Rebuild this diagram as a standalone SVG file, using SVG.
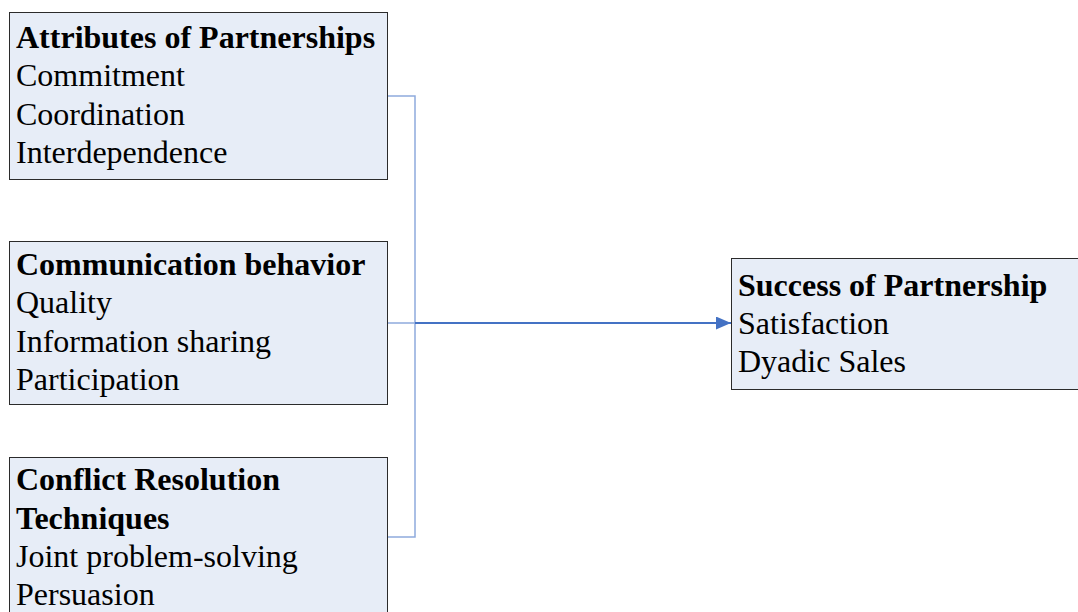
<svg xmlns="http://www.w3.org/2000/svg" width="1078" height="612" viewBox="0 0 1078 612">
<style>
.box{fill:#e7edf7;stroke:#2b2b2b;stroke-width:1}
text{font-family:"Liberation Serif","Times New Roman",serif;font-size:32px;fill:#000}
.b{font-weight:bold}
.thin{fill:none;stroke:#8eaadd;stroke-width:1.5}
.main{fill:none;stroke:#4472c4;stroke-width:2}
</style>
<defs>
<marker id="arr" markerWidth="15" markerHeight="13" refX="15" refY="6.5" orient="auto" markerUnits="userSpaceOnUse">
<path d="M0,0 L15,6.5 L0,13 z" fill="#4472c4"/>
</marker>
</defs>
<g id="connectors">
<path class="thin" d="M388,96 H415 V537 H388"/>
<path class="thin" d="M388,323 H415"/>
<path class="main" d="M415,323 H731" marker-end="url(#arr)"/>
</g>
<g id="attributes">
<rect class="box" x="9.5" y="12.5" width="378" height="167"/>
<text x="16" y="48" class="b">Attributes of Partnerships</text>
<text x="16" y="86">Commitment</text>
<text x="16" y="125">Coordination</text>
<text x="16" y="163">Interdependence</text>
</g>
<g id="communication">
<rect class="box" x="9.5" y="241.5" width="378" height="163"/>
<text x="16" y="275" class="b">Communication behavior</text>
<text x="16" y="313">Quality</text>
<text x="16" y="352">Information sharing</text>
<text x="16" y="390">Participation</text>
</g>
<g id="conflict">
<rect class="box" x="9.5" y="457.5" width="378" height="160"/>
<text x="16" y="490" class="b">Conflict Resolution</text>
<text x="16" y="529" class="b">Techniques</text>
<text x="16" y="567">Joint problem-solving</text>
<text x="16" y="605">Persuasion</text>
</g>
<g id="success">
<rect class="box" x="731.5" y="258.5" width="352" height="131"/>
<text x="738" y="296" class="b">Success of Partnership</text>
<text x="738" y="334">Satisfaction</text>
<text x="738" y="372">Dyadic Sales</text>
</g>
</svg>
